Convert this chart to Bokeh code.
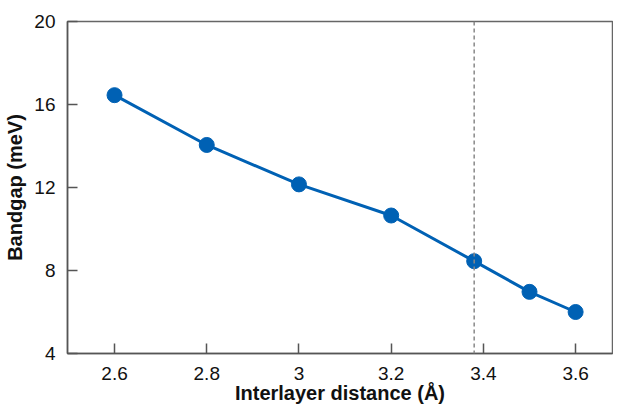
from bokeh.plotting import figure
from bokeh.models import Span, FixedTicker
from bokeh.embed import file_html
from bokeh.resources import INLINE

distance = [2.6, 2.8, 3.0, 3.2, 3.38, 3.5, 3.6]
bandgap = [16.45, 14.05, 12.15, 10.65, 8.45, 6.97, 6.0]
x_ticks = [2.6, 2.8, 3.0, 3.2, 3.4, 3.6]
y_ticks = [4, 8, 12, 16, 20]
ref_distance = 3.38

p = figure(width=613, height=406, output_backend="svg", toolbar_location=None,
           x_range=(2.498, 3.68), y_range=(4, 20),
           min_border_left=67, min_border_right=1, min_border_top=21, min_border_bottom=51)
p.grid.visible = False
p.outline_line_color = "#666666"
p.outline_line_width = 1.5
p.background_fill_color = "white"

blue = "#0061B4"
p.line(distance, bandgap, line_color=blue, line_width=3)
p.scatter(distance, bandgap, size=15, fill_color=blue, line_color=blue)

p.add_layout(Span(location=ref_distance, dimension="height", line_color="#888888",
                  line_width=1.5, line_dash="4 3"))

font = "Liberation Sans"
for ax in (p.xaxis[0], p.yaxis[0]):
    ax.axis_line_color = "#555555"
    ax.axis_line_width = 1.5
    ax.major_tick_line_color = "#555555"
    ax.major_tick_line_width = 1.5
    ax.major_tick_in = 10
    ax.major_tick_out = 0
    ax.minor_tick_line_color = None
    ax.major_label_text_font = font
    ax.major_label_text_font_size = "19px"
    ax.major_label_text_color = "#111111"
    ax.axis_label_text_font = font
    ax.axis_label_text_font_style = "bold"
    ax.axis_label_text_color = "#111111"
    ax.axis_label_text_font_size = "20px"

p.xaxis.ticker = FixedTicker(ticks=x_ticks)
p.yaxis.ticker = FixedTicker(ticks=y_ticks)
p.xaxis.major_label_overrides = {3.0: "3"}
p.xaxis.axis_label = "Interlayer distance (Å)"
p.yaxis.axis_label = "Bandgap (meV)"
p.xaxis.major_label_standoff = 13
p.xaxis.axis_label_standoff = -1
p.yaxis.major_label_standoff = 12
p.yaxis.axis_label_standoff = 5

open("out.html", "w").write(file_html(p, INLINE))
